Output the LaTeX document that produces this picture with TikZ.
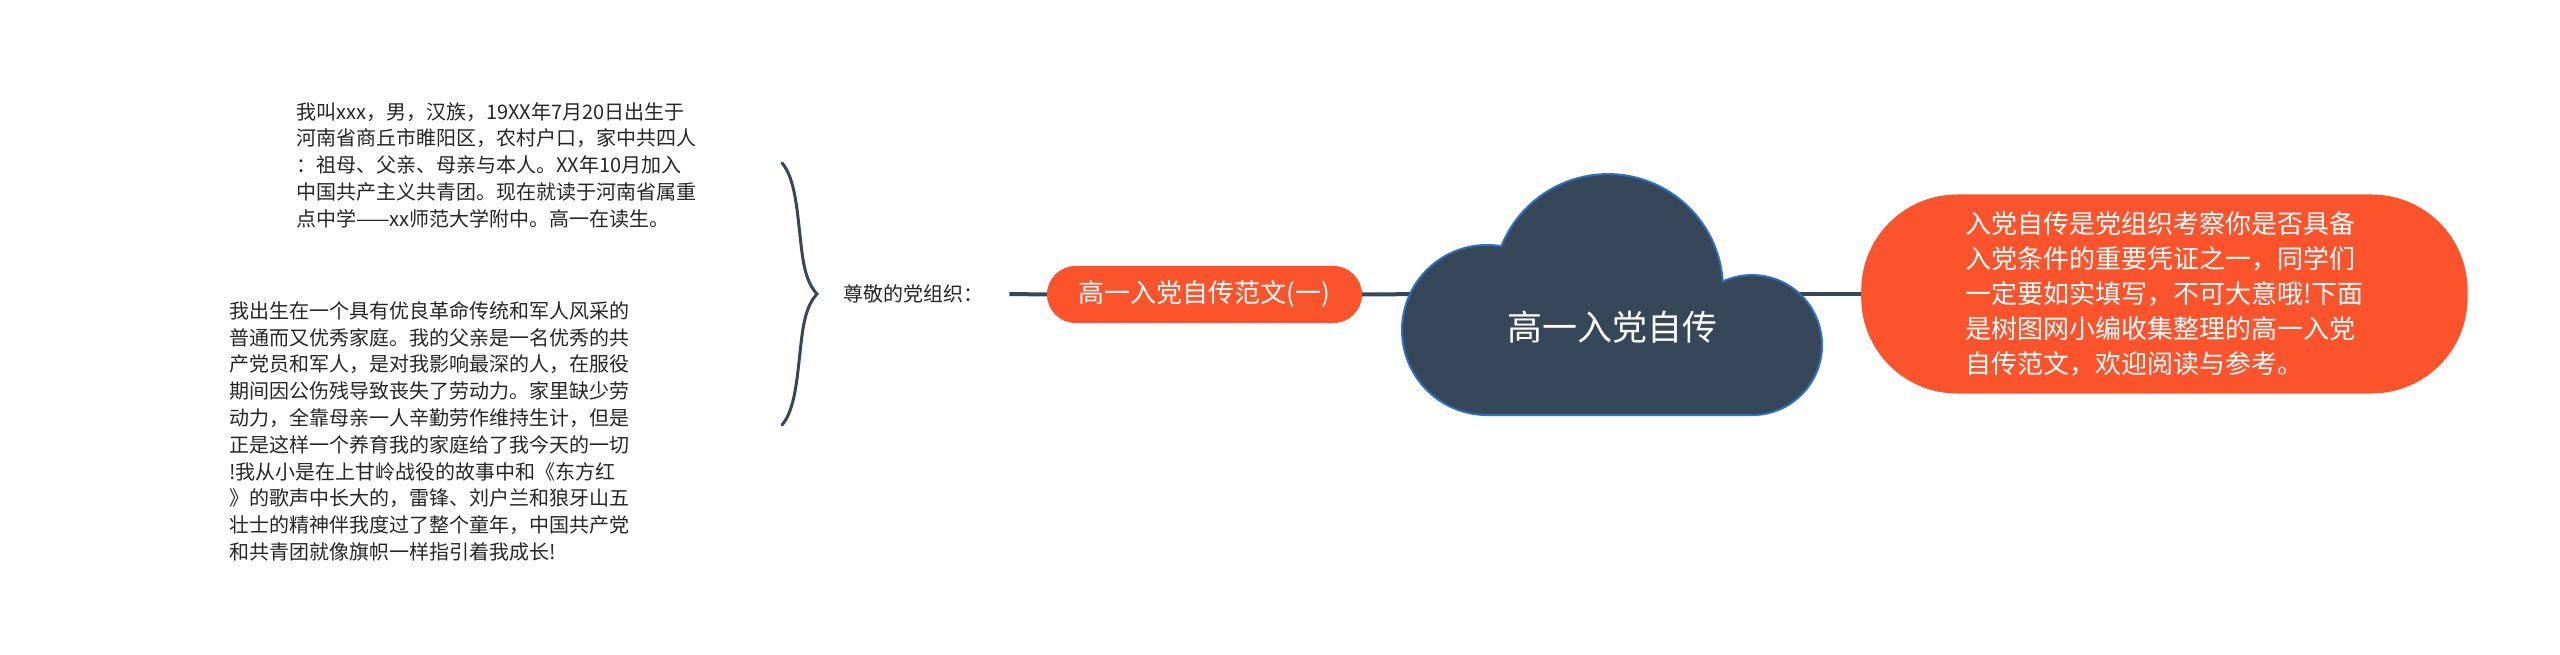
\documentclass[tikz,border=0pt]{standalone}
\usepackage{fontspec}
\setmainfont{Noto Sans CJK SC}
\definecolor{slate}{HTML}{36475A}
\definecolor{cloudedge}{HTML}{2E6FC2}
\definecolor{topicorange}{HTML}{FB532C}
\definecolor{ink}{HTML}{262626}
\begin{document}
\begin{tikzpicture}[x=1pt,y=-1pt,
  conn/.style={draw=slate, line width=4pt},
  braceline/.style={draw=slate, line width=3pt, line cap=round},
  plain/.style={inner sep=0pt, align=left, text=ink, font=\fontsize{20}{26.8}\selectfont},
  pill/.style={fill=topicorange, rounded corners=28.5pt, minimum width=315pt, minimum height=57pt, inner sep=0pt, text=white, font=\fontsize{26}{32}\selectfont},
  mainbox/.style={fill=topicorange, rounded corners=96pt, minimum height=199pt, inner xsep=104pt, inner ysep=0pt, text=white, align=left, font=\fontsize{26}{35}\selectfont},
  cloudshape/.style={fill=slate, draw=cloudedge, line width=2pt},
  cloudtext/.style={text=white, inner sep=0pt, font=\fontsize{35}{40}\selectfont}]
\useasboundingbox (0,0) rectangle (2560,655);

% text blocks
\node[plain, anchor=north west] (bio) at (296,102) {我叫xxx，男，汉族，19XX年7月20日出生于\\河南省商丘市睢阳区，农村户口，家中共四人\\：祖母、父亲、母亲与本人。XX年10月加入\\中国共产主义共青团。现在就读于河南省属重\\点中学——xx师范大学附中。高一在读生。};
\node[plain, anchor=north west] (family) at (229,301) {我出生在一个具有优良革命传统和军人风采的\\普通而又优秀家庭。我的父亲是一名优秀的共\\产党员和军人，是对我影响最深的人，在服役\\期间因公伤残导致丧失了劳动力。家里缺少劳\\动力，全靠母亲一人辛勤劳作维持生计，但是\\正是这样一个养育我的家庭给了我今天的一切\\!我从小是在上甘岭战役的故事中和《东方红\\》的歌声中长大的，雷锋、刘户兰和狼牙山五\\壮士的精神伴我度过了整个童年，中国共产党\\和共青团就像旗帜一样指引着我成长!};

% label and topics
\node[plain, inner xsep=26pt, anchor=west] (label) at (817,294) {尊敬的党组织：};
\node[pill] (sample) at (1204.5,294.5) {高一入党自传范文(一)};
\node[mainbox, anchor=west] (intro) at (1861,294) {入党自传是党组织考察你是否具备\\入党条件的重要凭证之一，同学们\\一定要如实填写，不可大意哦!下面\\是树图网小编收集整理的高一入党\\自传范文，欢迎阅读与参考。};

% brace ends and cloud anchors
\coordinate (braceTop) at (782,163);
\coordinate (braceBot) at (782,425);
\coordinate (cloudL) at (1430,294);
\coordinate (cloudR) at (1790,294);

% connectors
\draw[conn] (label.east) -- (sample.west);
\draw[conn] (sample.east) -- (cloudL);
\draw[conn] (cloudR) -- (intro.west);
\draw[braceline] (braceTop) .. controls (795,178) and (797,210) .. (800,235)
  .. controls (803,265) and (806,282) .. (label.west)
  .. controls (806,306) and (803,323) .. (800,353)
  .. controls (797,378) and (795,410) .. (braceBot);

% central cloud
\path[cloudshape] (1487,415) arc[start angle=90, end angle=279.7, radius=85]
  arc[start angle=201.9, end angle=356.2, radius=115]
  arc[start angle=245.3, end angle=450, radius=70] -- cycle;
\node[cloudtext] (central) at (1612,327) {高一入党自传};
\end{tikzpicture}
\end{document}
